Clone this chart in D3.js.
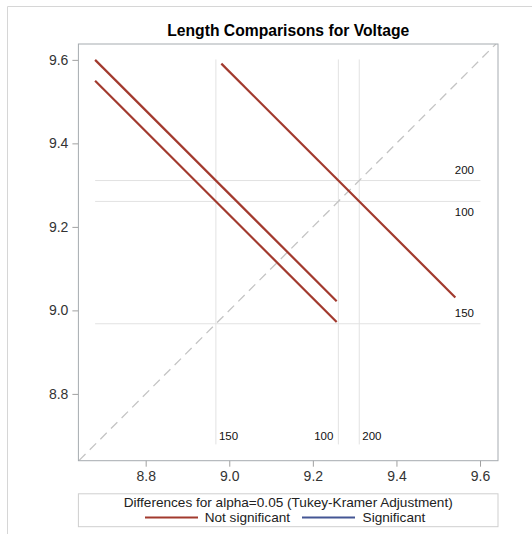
<!DOCTYPE html>
<html>
<head>
<meta charset="utf-8">
<script src="https://cdn.jsdelivr.net/npm/d3@7"></script>
<style>
  body { margin: 0; background: #fff; }
  svg { display: block; font-family: "Liberation Sans", Arial, sans-serif; }
</style>
</head>
<body>
<div id="chart"></div>
<script>
// voltage levels and their LS-means
const levels = ["100", "150", "200"];
const levelMeans = [9.261, 8.968, 9.311];

// pairwise comparisons: level on x, level on y, half length of the interval
const pairX = ["150", "150", "100"];
const pairY = ["200", "100", "200"];
const pairHalf = [0.289, 0.289, 0.280];
const pairSignificant = [false, false, false];

const xTicks = [8.8, 9.0, 9.2, 9.4, 9.6];
const yTicks = [8.8, 9.0, 9.2, 9.4, 9.6];
const xDomain = [8.639, 9.643];
const yDomain = [8.640, 9.638];
const refExtent = [8.679, 9.601];

const legendTitle = "Differences for alpha=0.05 (Tukey-Kramer Adjustment)";
const legendItems = ["Not significant", "Significant"];

const WIDTH = 532, HEIGHT = 534;
const frame = { left: 78.4, right: 498, top: 44, bottom: 460.7 };

const colNS = "#A23A2E", colSig = "#445694";

const svg = d3.select("#chart").append("svg")
  .attr("width", WIDTH)
  .attr("height", HEIGHT);

// page border (top + left only, as cropped)
svg.append("path")
  .attr("d", `M7.5,${HEIGHT} V6.5 H${WIDTH}`)
  .attr("fill", "none")
  .attr("stroke", "#d6d6d6");

const x = d3.scaleLinear().domain(xDomain).range([frame.left, frame.right]);
const y = d3.scaleLinear().domain(yDomain).range([frame.bottom, frame.top]);

const meanOf = lv => levelMeans[levels.indexOf(lv)];

svg.append("text")
  .attr("x", (frame.left + frame.right) / 2)
  .attr("y", 36)
  .attr("text-anchor", "middle")
  .style("font-size", "15.7px")
  .style("font-weight", "bold")
  .attr("fill", "#000")
  .text("Length Comparisons for Voltage");

svg.append("defs").append("clipPath").attr("id", "clip")
  .append("rect")
  .attr("x", frame.left).attr("y", frame.top)
  .attr("width", frame.right - frame.left)
  .attr("height", frame.bottom - frame.top);

const g = svg.append("g").attr("clip-path", "url(#clip)");

// reference lines at each mean
const hLabelPos = { "200": "above", "100": "below", "150": "above" };
const vLabelPos = { "150": "right", "100": "left", "200": "right" };

levels.forEach((lv, i) => {
  const m = levelMeans[i];
  g.append("line")
    .attr("x1", x(refExtent[0])).attr("x2", x(refExtent[1]))
    .attr("y1", y(m)).attr("y2", y(m))
    .attr("stroke", "#e2e2e2").attr("stroke-width", 1);
  g.append("line")
    .attr("x1", x(m)).attr("x2", x(m))
    .attr("y1", y(refExtent[0])).attr("y2", y(refExtent[1]))
    .attr("stroke", "#e2e2e2").attr("stroke-width", 1);

  g.append("text")
    .attr("x", x(refExtent[1]) - 6.5)
    .attr("y", hLabelPos[lv] === "above" ? y(m) - 7 : y(m) + 14.5)
    .attr("text-anchor", "end")
    .style("font-size", "11.5px")
    .attr("fill", "#111")
    .text(lv);

  const right = vLabelPos[lv] === "right";
  g.append("text")
    .attr("x", right ? x(m) + 3 : x(m) - 5)
    .attr("y", y(refExtent[0]) - 4)
    .attr("text-anchor", right ? "start" : "end")
    .style("font-size", "11.5px")
    .attr("fill", "#111")
    .text(lv);
});

// diagonal y = x
const dLo = Math.max(xDomain[0], yDomain[0]) - 0.05,
  dHi = Math.min(xDomain[1], yDomain[1]) + 0.05;
g.append("line")
  .attr("x1", x(dLo)).attr("y1", y(dLo))
  .attr("x2", x(dHi)).attr("y2", y(dHi))
  .attr("stroke", "#c4c4c4")
  .attr("stroke-width", 1.3)
  .attr("stroke-dasharray", "9,6");

// comparison segments
pairX.forEach((lx, i) => {
  const cx = meanOf(lx), cy = meanOf(pairY[i]), h = pairHalf[i];
  g.append("line")
    .attr("x1", x(cx - h)).attr("y1", y(cy + h))
    .attr("x2", x(cx + h)).attr("y2", y(cy - h))
    .attr("stroke", pairSignificant[i] ? colSig : colNS)
    .attr("stroke-width", 2.2);
});

// axes
const xAxis = svg.append("g")
  .attr("transform", `translate(0,${frame.bottom})`)
  .call(d3.axisBottom(x).tickValues(xTicks).tickFormat(d3.format(".1f")).tickSize(6).tickSizeOuter(0));
const yAxis = svg.append("g")
  .attr("transform", `translate(${frame.left},0)`)
  .call(d3.axisLeft(y).tickValues(yTicks).tickFormat(d3.format(".1f")).tickSize(6).tickSizeOuter(0));

[xAxis, yAxis].forEach(a => {
  a.select(".domain").remove();
  a.selectAll(".tick line").attr("stroke", "#a0a0a0");
  a.selectAll(".tick text")
    .style("font-size", "14px")
    .style("font-family", "'Liberation Sans', Arial, sans-serif")
    .attr("fill", "#333");
});
xAxis.selectAll(".tick text").attr("dy", "0.9em").attr("y", 8);
yAxis.selectAll(".tick text").attr("x", -10);

svg.append("rect")
  .attr("x", frame.left).attr("y", frame.top)
  .attr("width", frame.right - frame.left)
  .attr("height", frame.bottom - frame.top)
  .attr("fill", "none")
  .attr("stroke", "#a6abb0");

// legend
const legend = svg.append("g");
legend.append("rect")
  .attr("x", frame.left).attr("y", 493.8)
  .attr("width", frame.right - frame.left)
  .attr("height", 32.9)
  .attr("fill", "none")
  .attr("stroke", "#cfcfcf");
legend.append("text")
  .attr("x", (frame.left + frame.right) / 2)
  .attr("y", 506.8)
  .attr("text-anchor", "middle")
  .style("font-size", "13.6px")
  .attr("fill", "#222")
  .text(legendTitle);

const swatchX = [145, 302], labelX = [204.7, 362.6];
legendItems.forEach((t, i) => {
  legend.append("line")
    .attr("x1", swatchX[i]).attr("x2", swatchX[i] + 53)
    .attr("y1", 517.5).attr("y2", 517.5)
    .attr("stroke", i === 0 ? colNS : colSig)
    .attr("stroke-width", 2);
  legend.append("text")
    .attr("x", labelX[i])
    .attr("y", 522.3)
    .style("font-size", "13.6px")
    .attr("fill", "#222")
    .text(t);
});
</script>
</body>
</html>
